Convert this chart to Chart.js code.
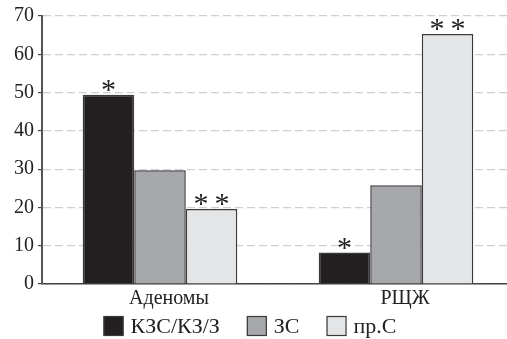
<!DOCTYPE html>
<html>
<head>
<meta charset="utf-8">
<script src="https://cdn.jsdelivr.net/npm/chart.js@4/dist/chart.umd.min.js"></script>
<style>
  html, body { margin: 0; padding: 0; background: #fff; overflow: hidden; }
  #wrap { width: 514px; height: 339px; }
</style>
</head>
<body>
<div id="wrap"><canvas id="chart"></canvas></div>
<script>
/* данные */
const categories = ["Аденомы", "РЩЖ"];
const seriesNames = ["КЗС/КЗ/З", "ЗС", "пр.С"];
const kzsValues = [49.4, 8.2];
const zsValues = [29.7, 25.8];
const prsValues = [19.6, 65.3];
const yTicks = [0, 10, 20, 30, 40, 50, 60, 70];
// звёздочки над столбцами
const kzsStars = ["*", "*"];
const zsStars = ["", ""];
const prsStars = ["**", "**"];

const FONT = "'Liberation Serif', 'DejaVu Serif', serif";

const starsPlugin = {
    id: "stars",
    afterDatasetsDraw(chart) {
        const ctx = chart.ctx;
        ctx.save();
        ctx.fillStyle = "#222";
        ctx.font = "30px " + FONT;
        ctx.textAlign = "center";
        ctx.textBaseline = "alphabetic";
        chart.data.datasets.forEach((ds, i) => {
            const meta = chart.getDatasetMeta(i);
            meta.data.forEach((bar, j) => {
                const s = ds.stars[j];
                if (!s) return;
                const txt = s.split("").join("\u2009");
                ctx.fillText(txt, bar.x, bar.y + 4);
            });
        });
        ctx.restore();
    }
};

// легенда внизу: квадраты 20x20 и подписи
const legendPlugin = {
    id: "bottomLegend",
    afterDraw(chart) {
        const ctx = chart.ctx;
        const box = 20, gapText = 7, gapItem = 27;
        ctx.save();
        ctx.font = "22px " + FONT;
        const items = chart.data.datasets.map(ds => ({
            ds, w: ctx.measureText(ds.label).width
        }));
        const total = items.reduce((s, it) => s + box + gapText + it.w, 0) + gapItem * (items.length - 1);
        let x = 250 - total / 2;
        const top = chart.height - 23;
        ctx.textBaseline = "middle";
        ctx.textAlign = "left";
        items.forEach(it => {
            ctx.fillStyle = it.ds.backgroundColor;
            ctx.fillRect(x, top, box, box);
            ctx.lineWidth = 1.2;
            ctx.strokeStyle = it.ds.borderColor;
            ctx.strokeRect(x + 0.5, top + 0.5, box - 1, box - 1);
            ctx.fillStyle = "#222";
            ctx.fillText(it.ds.label, x + box + gapText, top + box / 2 + 1);
            x += box + gapText + it.w + gapItem;
        });
        ctx.restore();
    }
};

new Chart(document.getElementById("chart"), {
    type: "bar",
    data: {
        labels: categories,
        datasets: [
            { label: seriesNames[0], data: kzsValues, stars: kzsStars,
              backgroundColor: "#231f20", borderColor: "#3a3a3a" },
            { label: seriesNames[1], data: zsValues, stars: zsStars,
              backgroundColor: "#a7a8ab", borderColor: "#3a3a3a" },
            { label: seriesNames[2], data: prsValues, stars: prsStars,
              backgroundColor: "#e4e5e7", borderColor: "#3a3a3a" }
        ]
    },
    options: {
        responsive: true,
        maintainAspectRatio: false,
        animation: false,
        datasets: {
            bar: {
                borderWidth: 1.5,
                borderSkipped: "bottom",
                categoryPercentage: 0.655,
                barPercentage: 1
            }
        },
        layout: { padding: { top: 10, left: 10, right: 0, bottom: 25 } },
        scales: {
            x: {
                grid: { display: false, drawTicks: false, tickLength: 0 },
                border: { color: "#444", width: 1.5 },
                ticks: { color: "#222", font: { family: FONT, size: 20 }, padding: 3, labelOffset: 9 }
            },
            y: {
                min: 0,
                max: 70,
                afterBuildTicks(axis) { axis.ticks = yTicks.map(v => ({ value: v })); },
                grid: {
                    color: "#cfcfcf",
                    lineWidth: 1.2,
                    tickColor: "#444",
                    tickLength: 4
                },
                border: { color: "#555", width: 2, dash: [8, 4] },
                ticks: { color: "#222", font: { family: FONT, size: 20 }, padding: 4 }
            }
        },
        plugins: {
            tooltip: { enabled: false },
            legend: { display: false }
        }
    },
    plugins: [starsPlugin, legendPlugin]
});
</script>
</body>
</html>
